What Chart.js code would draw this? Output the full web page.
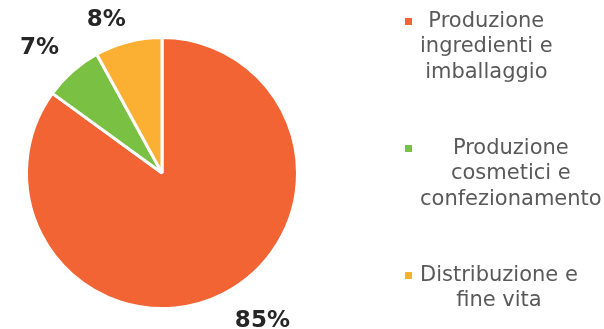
<!DOCTYPE html>
<html><head><meta charset="utf-8">
<script src="https://cdn.jsdelivr.net/npm/chart.js@4"></script>
<style>html,body{margin:0;padding:0;background:#fff;overflow:hidden}canvas{display:block}</style>
</head><body>
<canvas id="c" width="604" height="329"></canvas>
<script>
// ---- data ----
const categories = [
  "Produzione\ningredienti e\nimballaggio",
  "Produzione\ncosmetici e\nconfezionamento",
  "Distribuzione e\nfine vita"
];
const shares = [85, 7, 8];
const valueLabels = ["85%", "7%", "8%"];

const sliceColors = ["#F26434", "#7AC143", "#FBB034"];

const pctLabels = {
  id: 'pctLabels',
  afterDatasetsDraw(chart, args, o) {
    const ctx = chart.ctx;
    const meta = chart.getDatasetMeta(0);
    ctx.save();
    ctx.font = o.font;
    ctx.fillStyle = o.color;
    ctx.textAlign = 'center';
    ctx.textBaseline = 'middle';
    meta.data.forEach((arc, i) => {
      const p = arc.getProps(['x', 'y', 'startAngle', 'endAngle', 'outerRadius'], true);
      const mid = (p.startAngle + p.endAngle) / 2;
      const dx = Math.cos(mid), dy = Math.sin(mid);
      const ax = p.x + dx * (p.outerRadius + o.gap);
      const ay = p.y + dy * (p.outerRadius + o.gap);
      const text = valueLabels[i];
      const w = ctx.measureText(text).width, h = o.boxHeight;
      const n = (o.nudge && o.nudge[i]) || [0, 0];
      const cx = (dx >= 0 ? ax + w / 2 : ax - w / 2) + n[0];
      const cy = (dy >= 0 ? ay + h / 2 : ay - h / 2) + n[1];
      ctx.fillText(text, cx, cy);
    });
    ctx.restore();
  }
};

const sideLegend = {
  id: 'sideLegend',
  afterDraw(chart, args, o) {
    const ctx = chart.ctx;
    ctx.save();
    ctx.font = o.font;
    ctx.textAlign = 'center';
    ctx.textBaseline = 'middle';
    const bg = chart.data.datasets[0].backgroundColor;
    let y = o.top;
    chart.data.labels.forEach((cat, i) => {
      const lines = cat.split('\n');
      const w = Math.max(...lines.map(l => ctx.measureText(l).width));
      ctx.fillStyle = bg[i];
      ctx.fillRect(o.markerX, y - o.marker / 2, o.marker, o.marker);
      ctx.fillStyle = o.color;
      lines.forEach((l, j) => ctx.fillText(l, o.textX + w / 2, y + j * o.lineHeight));
      y += lines.length * o.lineHeight + o.gap;
    });
    ctx.restore();
  }
};

new Chart(document.getElementById('c'), {
  type: 'pie',
  data: {
    labels: categories,
    datasets: [{
      data: shares,
      backgroundColor: sliceColors,
      borderColor: '#FFFFFF',
      borderWidth: 3
    }]
  },
  options: {
    responsive: false,
    animation: false,
    devicePixelRatio: 1,
    layout: { padding: { left: 25, right: 305, top: 36, bottom: 19 } },
    plugins: {
      legend: { display: false },
      tooltip: { enabled: false },
      pctLabels: { font: 'bold 23px "DejaVu Sans"', color: '#262626', gap: 14, boxHeight: 18,
                   nudge: [[5, 6], [-4, -4], [1, 1]] },
      sideLegend: { font: '21px "DejaVu Sans"', color: '#595959', top: 21.5, markerX: 405, marker: 7, textX: 420, lineHeight: 25.5, gap: 50.5 }
    }
  },
  plugins: [pctLabels, sideLegend]
});
</script>
</body></html>
